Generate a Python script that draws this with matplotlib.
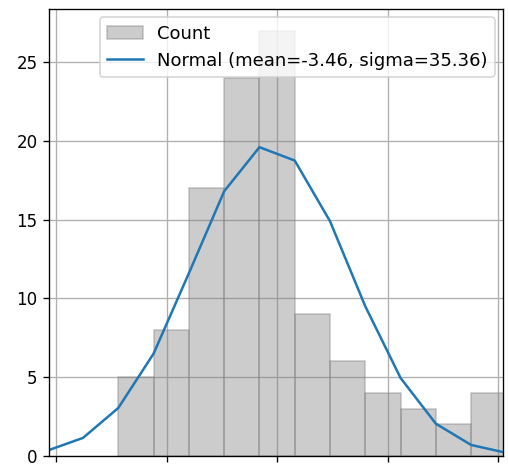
import matplotlib
matplotlib.use("Agg")
import matplotlib.pyplot as plt
import numpy as np

# Histogram data
bin_edges = [-71.8, -55.85, -39.9, -23.95, -8.0, 7.95, 23.9, 39.85, 55.8, 71.75, 87.7, 103.65]
counts = [5, 8, 17, 24, 27, 9, 6, 4, 3, 2, 4]

# Fitted normal curve (scaled to counts)
curve_x = [-119.65, -103.7, -87.75, -71.8, -55.85, -39.9, -23.95, -8.0, 7.95,
           23.9, 39.85, 55.8, 71.75, 87.7, 103.65, 119.6]
curve_y = [0.08, 0.35, 1.15, 3.05, 6.5, 11.6, 16.8, 19.6, 18.75,
           14.9, 9.5, 4.95, 2.05, 0.7, 0.2, 0.05]

x_ticks = [-100, -50, 0, 50, 100]
y_ticks = [0, 5, 10, 15, 20, 25]
curve_label = "Normal (mean=-3.46, sigma=35.36)"

dpi = 120
fig = plt.figure(figsize=(508 / dpi, 464 / dpi), dpi=dpi)
ax = fig.add_axes([49.3 / 508, 1 - 456 / 464, (503 - 49.3) / 508, (456 - 9.3) / 464])

edges = np.array(bin_edges)
bars = ax.bar(edges[:-1], counts, width=np.diff(edges), align="edge",
              color="gray", edgecolor="gray", alpha=0.4, label="Count")
line, = ax.plot(curve_x, curve_y, color="#1f77b4", lw=1.5, label=curve_label)

ax.set_xlim(-103.0, 102.1)
ax.set_ylim(0, 28.35)
ax.set_xticks(x_ticks)
ax.set_yticks(y_ticks)
ax.tick_params(labelbottom=False)
ax.grid(True)
ax.set_axisbelow(True)
ax.legend(handles=[bars, line], loc="upper right", fontsize=10.8,
          borderaxespad=0.45)

fig.savefig("out.png", dpi=dpi)
